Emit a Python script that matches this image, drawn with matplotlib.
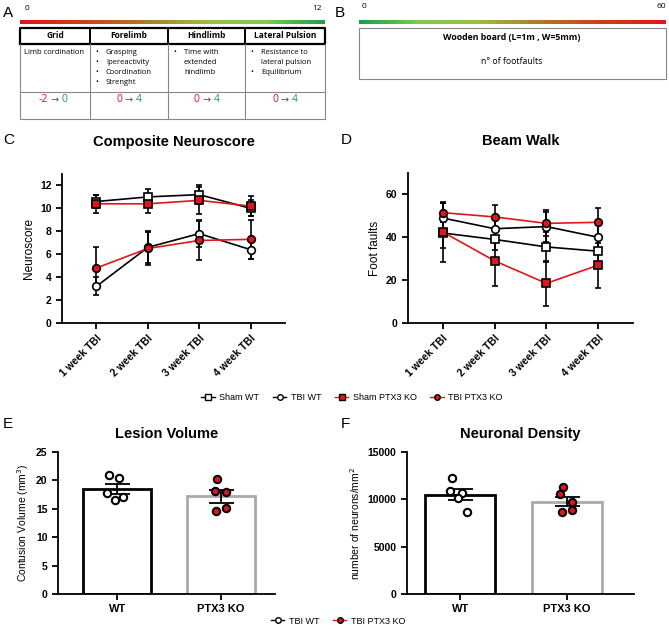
"""Neuroscore, beam walk, lesion volume and neuronal density after TBI in WT vs PTX3 KO mice."""

import matplotlib
matplotlib.use('Agg')
import matplotlib.pyplot as plt
import numpy as np
from matplotlib.colors import LinearSegmentedColormap
from matplotlib.lines import Line2D

plt.rcParams['font.family'] = ['Liberation Sans', 'DejaVu Sans']

# Data
weeks = ['1 week TBI', '2 week TBI', '3 week TBI', '4 week TBI']
groups = ['Sham WT', 'TBI WT', 'Sham PTX3 KO', 'TBI PTX3 KO']

# Composite neuroscore (mean, SEM)
cn_sham_wt = [10.6, 11.0, 11.2, 10.0]
cn_sham_wt_err = [0.6, 0.7, 0.8, 0.7]
cn_tbi_wt = [3.2, 6.6, 7.8, 6.4]
cn_tbi_wt_err = [0.8, 1.4, 1.2, 0.8]
cn_sham_ko = [10.4, 10.4, 10.7, 10.2]
cn_sham_ko_err = [0.8, 0.8, 1.2, 0.9]
cn_tbi_ko = [4.8, 6.5, 7.2, 7.3]
cn_tbi_ko_err = [1.8, 1.4, 1.7, 1.7]

# Beam walk foot faults (mean, SEM)
bw_sham_wt = [42.0, 39.0, 35.5, 33.5]
bw_sham_wt_err = [7.0, 5.0, 7.0, 5.5]
bw_tbi_wt = [49.0, 44.0, 45.0, 40.0]
bw_tbi_wt_err = [7.0, 5.0, 7.0, 7.0]
bw_sham_ko = [42.5, 29.0, 18.5, 27.0]
bw_sham_ko_err = [14.0, 11.5, 10.5, 10.5]
bw_tbi_ko = [51.5, 49.5, 46.5, 47.0]
bw_tbi_ko_err = [4.5, 5.5, 6.0, 6.5]

# Lesion volume and neuronal density
bar_labels = ['WT', 'PTX3 KO']
lv_mean = [18.5, 17.2]
lv_err = [0.9, 1.1]
lv_wt_pts = [21.0, 20.4, 17.8, 16.6, 17.1]
lv_ko_pts = [20.3, 18.2, 17.9, 14.7, 15.1]
nd_mean = [10500, 9750]
nd_err = [580, 500]
nd_wt_pts = [12300, 10700, 10900, 10100, 8700]
nd_ko_pts = [11300, 10600, 9700, 8700, 8900]

W, H = 669, 630
fig = plt.figure(figsize=(W / 100, H / 100), dpi=100)


def px_axes(left, top, right, bottom):
    return fig.add_axes([left / W, 1 - bottom / H, (right - left) / W, (bottom - top) / H])


def style_axes(ax):
    for side in ['top', 'right']:
        ax.spines[side].set_visible(False)
    for side in ['left', 'bottom']:
        ax.spines[side].set_linewidth(1.3)
    ax.tick_params(width=1.3, length=4, labelsize=7.5)
    for lab in ax.get_yticklabels() + ax.get_xticklabels():
        lab.set_fontweight('bold')


# Overlay in pixel coordinates for panels A/B and letters
ov = fig.add_axes([0, 0, 1, 1])
ov.axis('off')

grad = LinearSegmentedColormap.from_list(
    'rg', ['#e3141c', '#d23a1c', '#b0762a', '#9dbb3e', '#7fcb55', '#1e9e48'])
ramp = np.linspace(0, 1, 256)[None, :]
ov.imshow(ramp, cmap=grad, extent=(20, 325, 24, 20), aspect='auto')
ov.imshow(ramp[:, ::-1], cmap=grad, extent=(359, 666, 24, 20), aspect='auto')
ov.set_xlim(0, W)
ov.set_ylim(H, 0)

for txt, x, y in [('A', 3, 13), ('B', 335, 13), ('C', 3, 140), ('D', 341, 140),
                  ('E', 3, 424), ('F', 341, 424)]:
    ov.text(x, y, txt, fontsize=11, ha='left', va='center')

tfont = 'Open Sans'
ov.text(25, 8, '0', fontsize=6, family=tfont, va='center')
ov.text(322, 9, '12', fontsize=6, family=tfont, va='center', ha='right')
ov.text(362, 6, '0', fontsize=6, family=tfont, va='center')
ov.text(666, 6, '60', fontsize=6, family=tfont, va='center', ha='right')

# Table A
cols = [20, 90, 168, 245, 325]
gray = '#888888'
ov.plot([20, 20, 325, 325, 20], [44, 28, 28, 44, 44], color='black', lw=1.6)
for cx in cols[1:-1]:
    ov.plot([cx, cx], [28, 44], color='black', lw=1.4)
    ov.plot([cx, cx], [44, 119], color=gray, lw=0.8)
ov.plot([20, 20, 325, 325], [44, 119, 119, 44], color=gray, lw=0.8)
ov.plot([20, 325], [92, 92], color=gray, lw=0.8)
heads = ['Grid', 'Forelimb', 'Hindlimb', 'Lateral Pulsion']
for i, h in enumerate(heads):
    ov.text((cols[i] + cols[i + 1]) / 2, 36, h, fontsize=6, fontweight='bold',
            family=tfont, ha='center', va='center')
ov.text(24, 52, 'Limb cordination', fontsize=5.5, family=tfont, va='center')
body = [
    (cols[1], ['Grasping', 'Ipereactivity', 'Coordination', 'Strenght'], [True] * 4),
    (cols[2], ['Time with', 'extended', 'hindlimb'], [True, False, False]),
    (cols[3], ['Resistance to', 'lateral pulsion', 'Equilibrium'], [True, False, True]),
]
for x0, lines, bullets in body:
    for j, (line, b) in enumerate(zip(lines, bullets)):
        y = 52 + 10 * j
        if b:
            ov.text(x0 + 5, y, '•', fontsize=5.5, family=tfont, va='center')
        ov.text(x0 + 16, y, line, fontsize=5.5, family=tfont, va='center')
scores = [('-2', '0'), ('0', '4'), ('0', '4'), ('0', '4')]
for i, (lo, hi) in enumerate(scores):
    cx = (cols[i] + cols[i + 1]) / 2
    ov.text(cx - 7, 100, lo, color='#e3141c', fontsize=7.5, family=tfont, ha='right', va='center')
    ov.text(cx, 100, '→', color='#555555', fontsize=7, family='DejaVu Sans', ha='center', va='center')
    ov.text(cx + 7, 100, hi, color='#1e9e48', fontsize=7.5, family=tfont, ha='left', va='center')

# Box B
ov.plot([359, 359, 666, 666, 359], [28, 79, 79, 28, 28], color=gray, lw=0.8)
ov.text(512, 37, 'Wooden board (L=1m , W=5mm)', fontsize=6.3, fontweight='bold',
        family=tfont, ha='center', va='center')
ov.text(512, 61, 'n° of footfaults', fontsize=6.3, family=tfont, ha='center', va='center')

# Line panels
x = np.arange(1, 5)
styles = [
    dict(color='black', marker='s', mfc='white', mec='black'),
    dict(color='black', marker='o', mfc='white', mec='black'),
    dict(color='#e3141c', marker='s', mfc='#e3141c', mec='black'),
    dict(color='#e3141c', marker='o', mfc='#e3141c', mec='black'),
]


def line_panel(ax, series, errs, ylim, yticks, ylabel, title):
    for y, e, st in zip(series, errs, styles):
        ax.errorbar(x, y, yerr=e, ecolor='black', elinewidth=1.2, capsize=2.5,
                    capthick=1.2, lw=1.2, ms=5.5, mew=1.2, **st)
    ax.set_xlim(0.33, 4.67)
    ax.set_ylim(*ylim)
    ax.set_yticks(yticks)
    ax.set_xticks(x)
    ax.set_xticklabels(weeks, rotation=45, ha='right', rotation_mode='anchor')
    ax.set_ylabel(ylabel, fontsize=8.5)
    ax.set_title(title, fontsize=10.5, fontweight='bold', pad=20)
    style_axes(ax)


axc = px_axes(62, 174, 285, 323)
line_panel(axc, [cn_sham_wt, cn_tbi_wt, cn_sham_ko, cn_tbi_ko],
           [cn_sham_wt_err, cn_tbi_wt_err, cn_sham_ko_err, cn_tbi_ko_err],
           (0, 13), range(0, 13, 2), 'Neuroscore', 'Composite Neuroscore')
axd = px_axes(408, 173, 633, 323)
line_panel(axd, [bw_sham_wt, bw_tbi_wt, bw_sham_ko, bw_tbi_ko],
           [bw_sham_wt_err, bw_tbi_wt_err, bw_sham_ko_err, bw_tbi_ko_err],
           (0, 70), range(0, 61, 20), 'Foot faults', 'Beam Walk')

handles = [Line2D([], [], lw=1, ms=4, **st) for st in styles]
fig.legend(handles, groups, ncol=4, loc='center', bbox_to_anchor=(352 / W, 1 - 398 / H),
           frameon=False, fontsize=6.5, handlelength=1.5, handletextpad=0.5,
           columnspacing=1.5)

# Bar panels
jit_wt = [-0.08, 0.02, -0.1, -0.02, 0.06]
jit_ko = [-0.04, -0.06, 0.05, -0.05, 0.05]


def bar_panel(ax, means, errs, wt_pts, ko_pts, ylim, yticks, ylabel, title, xlim):
    bx = np.arange(2)
    ax.bar(bx, means, width=0.66, color='white', edgecolor=['black', '#aaaaaa'], lw=2)
    ax.errorbar(bx, means, yerr=errs, fmt='none', ecolor='black', elinewidth=1.3,
                capsize=9, capthick=1.3)
    ax.scatter(0 + np.array(jit_wt), wt_pts, s=28, facecolor='white', edgecolor='black',
               lw=1.5, zorder=3)
    ax.scatter(1 + np.array(jit_ko), ko_pts, s=28, facecolor='#e3141c', edgecolor='black',
               lw=1.5, zorder=3)
    ax.set_xlim(*xlim)
    ax.set_ylim(*ylim)
    ax.set_yticks(yticks)
    ax.set_xticks(bx)
    ax.set_xticklabels(bar_labels)
    ax.tick_params(axis='x', length=0)
    ax.set_ylabel(ylabel, fontsize=7.5)
    ax.set_title(title, fontsize=10.5, fontweight='bold', pad=10)
    style_axes(ax)
    for lab in ax.get_xticklabels():
        lab.set_fontsize(8)


axe = px_axes(58, 452, 275, 594)
bar_panel(axe, lv_mean, lv_err, lv_wt_pts, lv_ko_pts, (0, 25), range(0, 26, 5),
          'Contusion Volume (mm$^3$)', 'Lesion Volume', (-0.57, 1.52))
axf = px_axes(407, 452, 634, 594)
bar_panel(axf, nd_mean, nd_err, nd_wt_pts, nd_ko_pts, (0, 15000), range(0, 15001, 5000),
          'number of neurons/mm$^2$', 'Neuronal Density', (-0.5, 1.63))

h2 = [Line2D([], [], lw=1, ms=4, **styles[1]), Line2D([], [], lw=1, ms=4, **styles[3])]
fig.legend(h2, ['TBI WT', 'TBI PTX3 KO'], ncol=2, loc='center',
           bbox_to_anchor=(338 / W, 1 - 621 / H), frameon=False, fontsize=6.5,
           handlelength=1.5, handletextpad=0.5, columnspacing=1.5)

fig.savefig('out.png', dpi=100)
